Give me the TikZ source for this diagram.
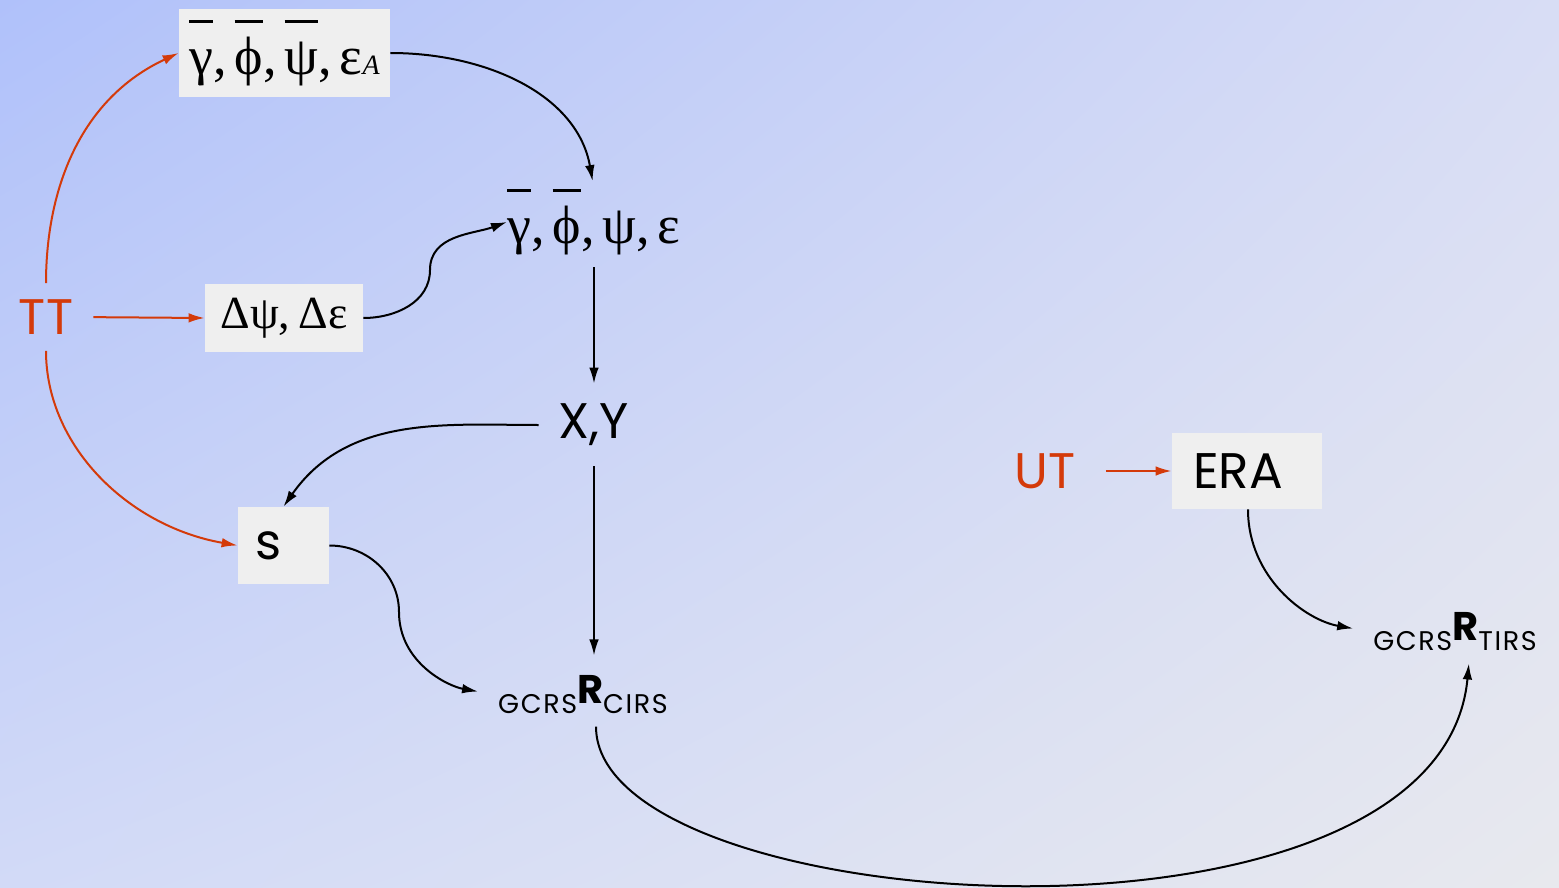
\documentclass[tikz,border=0pt]{standalone}
\usepackage{fontspec}
\setmainfont{Liberation Serif}
\newfontfamily\comic{Poppins}
\newfontfamily\comicsp[LetterSpace=6]{Poppins}
\usetikzlibrary{arrows.meta,shadings}
\definecolor{bgTL}{RGB}{176,193,250}
\definecolor{bgTR}{RGB}{216,221,245}
\definecolor{bgBL}{RGB}{210,218,247}
\definecolor{bgBR}{RGB}{232,233,238}
\definecolor{boxfill}{RGB}{239,239,239}
\definecolor{tred}{RGB}{212,58,10}
\newcommand\ovl[1]{\setbox0=\hbox{#1}\rlap{\rule[0.95em]{\wd0}{0.045em}}\box0}
\newcommand\gsp{\hspace{4pt}}
\tikzset{
  gbox/.style={fill=boxfill, inner sep=0pt, align=center},
  plain/.style={inner sep=0pt},
  redtxt/.style={inner sep=0pt, text=tred, font=\comic\fontsize{25}{28}\selectfont},
  sanstxt/.style={inner sep=0pt, font=\comic\fontsize{25}{28}\selectfont},
  greek/.style={font=\fontsize{27}{30}\selectfont},
  blk/.style={draw=black, line width=1pt, -{Latex[length=8pt,width=4.8pt]}},
  redarr/.style={draw=tred, line width=1pt, -{Latex[length=8pt,width=4.8pt]}},
}
\begin{document}
\begin{tikzpicture}[x=0.5pt,y=-0.5pt]
\useasboundingbox (0,0) rectangle (1559,888);
\shade[upper left=bgTL, upper right=bgTR, lower left=bgBL, lower right=bgBR] (0,0) rectangle (1559,888);

% nodes
\node[gbox, greek, minimum width=105.5pt, minimum height=44pt] (b1) at (284.5,53)
  {\ovl{γ},\gsp\ovl{ϕ},\gsp\ovl{ψ},\gsp ε{\fontsize{14}{15}\selectfont\itshape A}};
\node[plain, greek] (n2) at (594,222) {\ovl{γ},\gsp\ovl{ϕ},\gsp ψ,\gsp ε};
\node[redtxt] (tt) at (46,317) {TT};
\node[gbox, font=\fontsize{23}{26}\selectfont, minimum width=79pt, minimum height=34pt] (dp) at (284,318) {Δψ,\hspace{4pt}Δε};
\node[sanstxt] (xy) at (594,425) {X,Y};
\node[gbox, sanstxt, minimum width=45.5pt, minimum height=38.5pt] (s) at (283.5,545.5) {s\hspace*{15pt}};
\node[plain] (rc) at (583,695)
  {{\comicsp\fontsize{13.5}{15}\selectfont GCRS}\raisebox{5pt}{\comic\fontsize{20}{22}\selectfont\bfseries R}{\comicsp\fontsize{13.5}{15}\selectfont CIRS}};
\node[redtxt] (ut) at (1045,471) {UT};
\node[gbox, sanstxt, minimum width=75pt, minimum height=38pt] (era) at (1247,471) {ERA\hspace*{9pt}};
\node[plain] (rt) at (1455,632)
  {{\comicsp\fontsize{13.5}{15}\selectfont GCRS}\raisebox{5pt}{\comic\fontsize{20}{22}\selectfont\bfseries R}{\comicsp\fontsize{13.5}{15}\selectfont TIRS}};

% red connectors
\draw[redarr, shorten <=8pt] (tt.north) to[out=90,in=205] (b1.west);
\draw[redarr, shorten <=10pt] (tt.east) -- (dp.west);
\draw[redarr, shorten <=8pt] (tt.south) to[out=-90,in=170] (s.west);
\draw[redarr, shorten <=15pt] (ut.east) -- (era.west);

% black connectors
\draw[blk, shorten >=4pt] (b1.east) to[out=0,in=100] (n2.north);
\draw[blk] (dp.east) to[out=0,in=-90] (430,270) to[out=90,in=200] (n2.west);
\draw[blk, shorten <=6pt, shorten >=10pt] (n2.south) -- (xy.north);
\draw[blk, shorten <=10pt] (xy.west) to[out=180,in=55] (s.north);
\draw[blk, shorten <=10pt, shorten >=10pt] (xy.south) -- (rc.north -| xy.south);
\draw[blk, shorten >=10pt] (s.east) to[out=0,in=90] (399,612) to[out=-90,in=170] (rc.west);
\draw[blk, shorten >=10pt] (era.south -| 1248,0) to[out=-90,in=170] (rt.west);
\draw[blk, shorten <=6pt, shorten >=6pt] (rc.south -| 596,0) .. controls (596,920) and (1440,975) .. (rt.south -| 1470,0);
\end{tikzpicture}
\end{document}
